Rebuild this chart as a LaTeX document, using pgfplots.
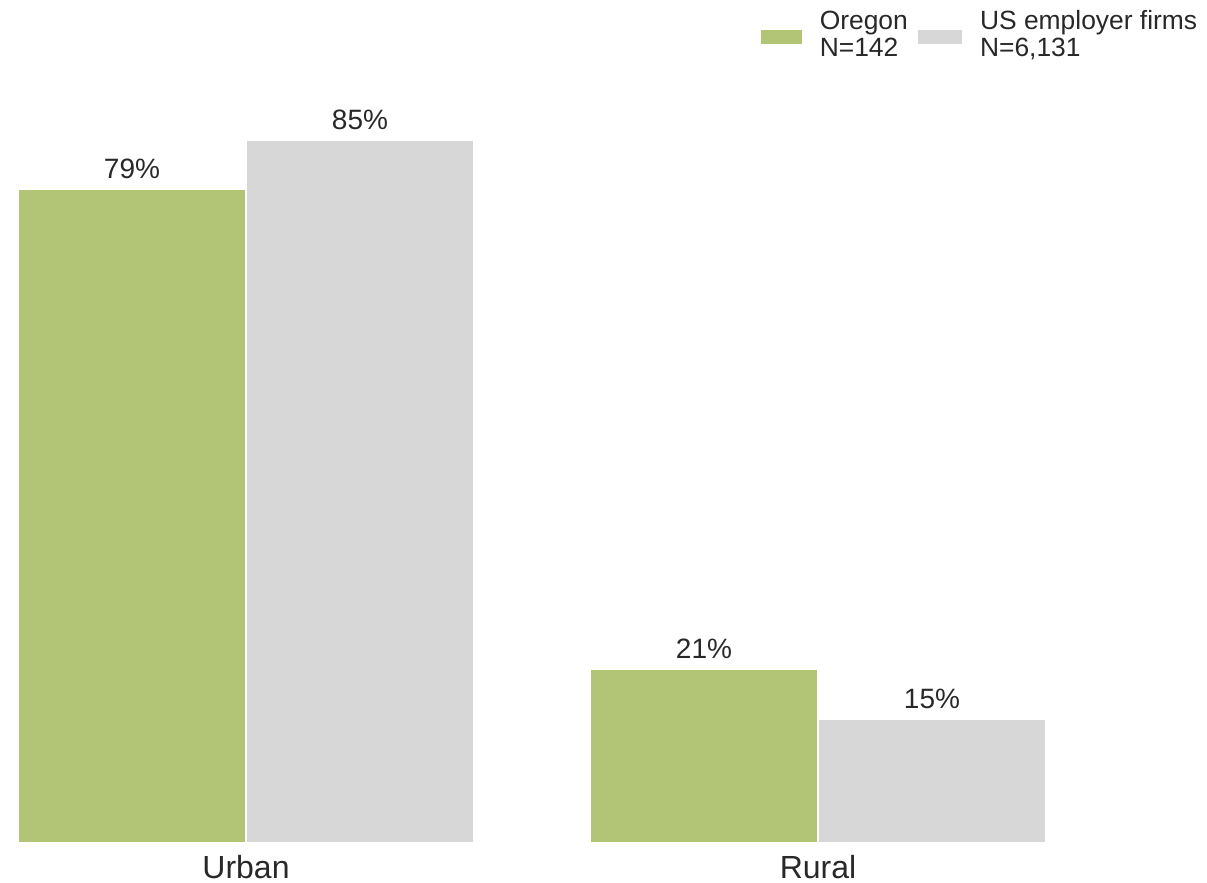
\documentclass[border=0pt]{standalone}
\usepackage{fontspec}
\setmainfont{Liberation Sans}
\usepackage{pgfplots}
\pgfplotsset{compat=1.18}
\definecolor{ogreen}{RGB}{178,197,119}
\definecolor{usgray}{RGB}{215,215,215}
\definecolor{txt}{RGB}{40,40,40}
\begin{document}
\begin{tikzpicture}
\useasboundingbox (0,0) rectangle (603.5pt,441.5pt);
\begin{axis}[
  at={(0pt,20pt)}, anchor=origin,
  scale only axis, width=603.5pt, height=413.5pt,
  xmin=0, xmax=1207, ymin=0, ymax=100,
  axis line style={draw=none},
  major tick length=0pt,
  ytick=\empty,
  xtick={246,818},
  xticklabels={Urban,Rural},
  xticklabel style={font=\fontsize{16}{16}\selectfont, text=txt, inner sep=0pt, yshift=-6pt},
  ybar=0pt, bar width=114pt,
  /pgf/number format/assume math mode=true,
  nodes near coords={\pgfmathprintnumber{\pgfplotspointmeta}\%},
  nodes near coords style={font=\fontsize{14}{14}\selectfont, text=txt, anchor=south, inner sep=0pt, yshift=5pt},
  legend columns=2,
  legend style={draw=none, fill=none, at={(axis description cs:0.9955,0.985)}, anchor=east,
    font=\fontsize{13.2}{14}\selectfont, text=txt, inner sep=0pt,
    /tikz/every odd column/.append style={column sep=7pt},
    /tikz/every even column/.append style={column sep=3pt}},
  legend cell align=left,
]
\addplot[fill=ogreen, draw=white, line width=0.6pt,
  legend image code/.code={\fill[ogreen] (0pt,-7.5pt) rectangle (20pt,-1pt);}]
  coordinates {(246,79) (818,21)};
\addplot[fill=usgray, draw=white, line width=0.6pt,
  legend image code/.code={\fill[usgray] (0pt,-7.5pt) rectangle (21.5pt,-1pt);}]
  coordinates {(246,85) (818,15)};
\legend{{\begin{tabular}{@{}l@{}}Oregon\\[-0.5pt]N=142\end{tabular}},{\begin{tabular}{@{}l@{}}US employer firms\\[-0.5pt]N=6,131\end{tabular}}}
\end{axis}
\end{tikzpicture}
\end{document}
